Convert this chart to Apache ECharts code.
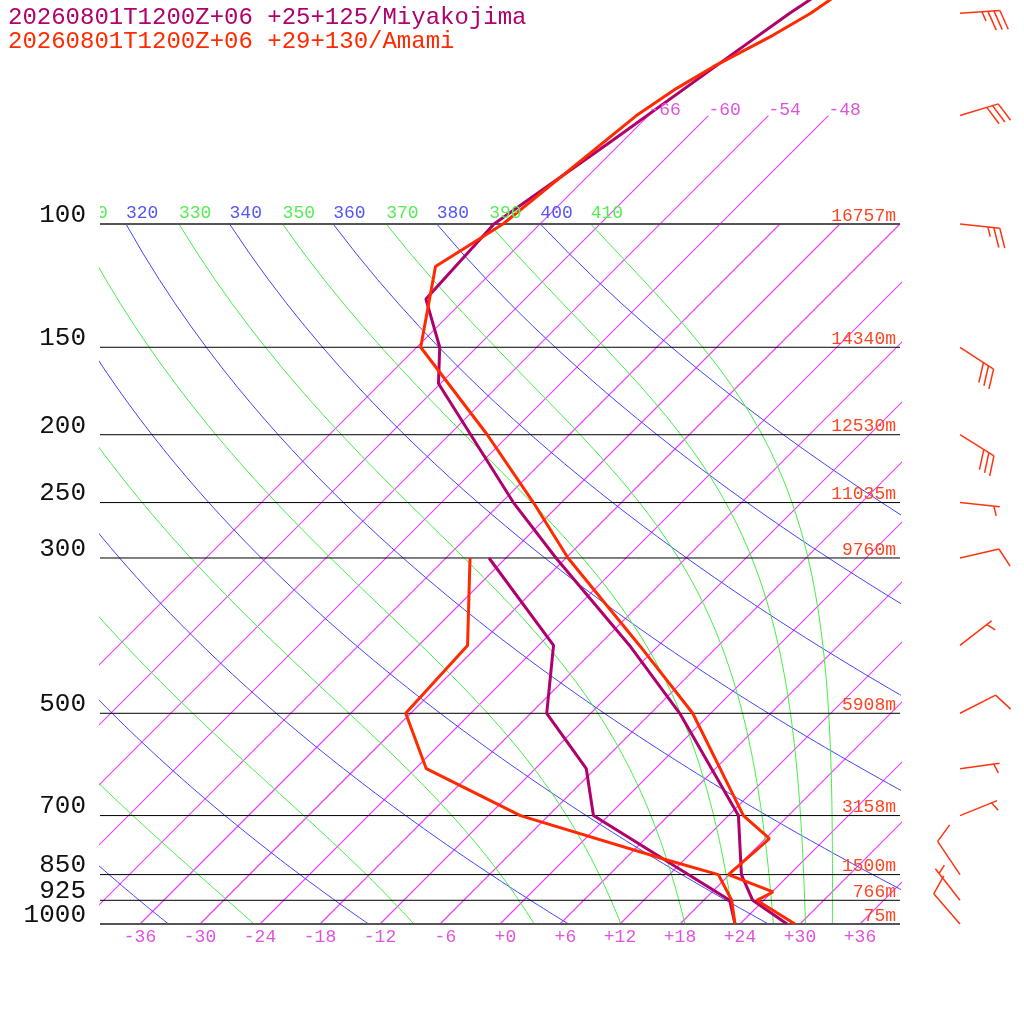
<!DOCTYPE html>
<html>
<head>
<meta charset="UTF-8">
<script src="https://cdn.jsdelivr.net/npm/echarts@6/dist/echarts.min.js"></script>
<style>
    body { margin: 0; background: #fff; }
</style>
</head>
<body>
<div id="main" style="width:1024px;height:1024px;"></div>
<script>
// soundings (hPa, degC)
var amamiP    = [1000, 925, 900, 850, 755, 700, 500, 400, 300, 250, 200, 150, 115, 100, 70, 64, 59.6, 53.8, 50, 45];
var amamiT    = [29.5, 23.3, 24.1, 17.9, 18.4, 13.5, -1.8, -13.9, -29.8, -38.8, -50.2, -65.6, -72.2, -69.7, -67.2, -65.9, -64.4, -61.6, -60.0, -58.6];
var amamiTdP  = [1000, 925, 850, 810, 700, 600, 500, 400, 300];
var amamiTd   = [23.5, 20.8, 16.9, 10.3, -8.8, -22.9, -30.5, -31.1, -39.6];

var miyakoP   = [1000, 925, 850, 700, 500, 400, 300, 250, 169, 150, 128, 100, 76, 57, 50, 45];
var miyakoT   = [28.7, 22.9, 19.2, 13.0, -3.1, -14.9, -31.0, -40.8, -60.2, -63.7, -69.9, -70.6, -67.1, -63.7, -62.1, -60.5];
var miyakoTdP = [1000, 925, 700, 600, 500, 400, 300];
var miyakoTd  = [23.5, 20.6, -1.5, -6.9, -16.4, -22.5, -37.7];

// wind barbs (Amami): direction from (deg), speed (kt)
var windP   = [50, 70, 100, 150, 200, 250, 300, 400, 500, 600, 700, 850, 925, 1000];
var windDir = [86, 73, 96, 123, 122, 96, 77, 52, 63, 82, 68, 326, 322, 319];
var windKt  = [35, 30, 25, 30, 30, 5, 10, 5, 10, 5, 5, 10, 5, 10];

// axes / reference lines
var isobars    = [1000, 925, 850, 700, 500, 300, 250, 200, 150, 100];
var isobarText = ['1000', '925', '850', '700', '500', '300', '250', '200', '150', '100'];
var heights    = ['75m', '766m', '1500m', '3158m', '5908m', '9760m', '11035m', '12530m', '14340m', '16757m'];
var tempTicks  = [-36, -30, -24, -18, -12, -6, 0, 6, 12, 18, 24, 30, 36];
var isotherms  = [-66, -60, -54, -48, -42, -36, -30, -24, -18, -12, -6, 0, 6, 12, 18, 24, 30, 36];
var upperIsotherms = [-66, -60, -54, -48];
var dryTheta   = [240, 260, 280, 300, 320, 340, 360, 380, 400];
var moistTheta = [250, 270, 290, 310, 330, 350, 370, 390, 410];
var dryLabels  = [320, 340, 360, 380, 400];
var moistLabels = [310, 330, 350, 370, 390, 410];

var SKEW = 30.4;              // x shift per unit ln(1000/p)
var PTOP = 1000 * Math.exp(-924 / 304);
var MONO = 'Liberation Mono, monospace';

function sx(t, p) { return t + SKEW * Math.log(1000 / p); }

function thetaE(tc, p) {
    var tk = tc + 273.15;
    var es = 6.112 * Math.exp(17.67 * tc / (tc + 243.5));
    if (es > p * 0.6) return 1e9;
    var r = 622 * es / (p - es);
    return tk * Math.pow(1000 / p, 0.2854 * (1 - 0.00028 * r)) *
        Math.exp((3.376 / tk - 0.00254) * r * (1 + 0.00081 * r));
}
function moistT(te, p) {
    var lo = -170, hi = 60;
    for (var i = 0; i < 60; i++) {
        var mid = (lo + hi) / 2;
        if (thetaE(mid, p) > te) hi = mid; else lo = mid;
    }
    return (lo + hi) / 2;
}

var levels = [];
for (var p = 1000; p >= 100; p -= 10) levels.push(p);

function lineSeries(data, color, width, z, clip) {
    return {
        type: 'line', data: data, symbol: 'none', showSymbol: false, silent: true, animation: false,
        clip: clip, z: z, color: color,
        lineStyle: { color: color, width: width, opacity: 1 }
    };
}

var series = [];

// isotherms, from 1000 hPa up to their top level
isotherms.forEach(function (t) {
    var top = upperIsotherms.indexOf(t) >= 0 ? 70 : 100;
    series.push(lineSeries([[sx(t, 1000), 1000], [sx(t, top), top]], '#f040ff', 1.15, 2, true));
});
dryTheta.forEach(function (th) {
    series.push(lineSeries(levels.map(function (p) {
        return [sx(th * Math.pow(p / 1000, 0.2857) - 273.15, p), p];
    }), '#4444ff', 1, 2, true));
});
moistTheta.forEach(function (te) {
    series.push(lineSeries(levels.map(function (p) {
        return [sx(moistT(te, p), p), p];
    }), '#44ee44', 1, 2, true));
});
isobars.forEach(function (p) {
    var edge = (p === 1000 || p === 100);
    series.push(lineSeries([[-40, p], [40, p]], edge ? '#555' : '#000', edge ? 2 : 1, 3, true));
});

function profile(ps, ts, color) {
    return lineSeries(ps.map(function (p, i) { return [sx(ts[i], p), p]; }), color, 3, 5, false);
}
series.push(profile(miyakoTdP, miyakoTd, '#b0006c'));
series.push(profile(miyakoP, miyakoT, '#b0006c'));
series.push(profile(amamiTdP, amamiTd, '#ff2a00'));
series.push(profile(amamiP, amamiT, '#ff2a00'));

function textSeries(points, texts, colors, opt) {
    return {
        type: 'custom', silent: true, animation: false, clip: !!opt.clip, z: 10,
        data: points,
        renderItem: function (params, api) {
            var c = api.coord([api.value(0), api.value(1)]);
            var i = params.dataIndex;
            return {
                type: 'text', x: c[0] + (opt.dx || 0), y: c[1] + (opt.dy || 0),
                style: {
                    text: texts[i], fill: Array.isArray(colors) ? colors[i] : colors,
                    font: opt.font, align: opt.align, verticalAlign: 'middle'
                }
            };
        }
    };
}

// pressure labels
series.push(textSeries(isobars.map(function (p) { return [-40, p]; }), isobarText, '#111',
    { font: '26px ' + MONO, align: 'right', dx: -14, dy: -9 }));
// heights
series.push(textSeries(isobars.map(function (p) { return [39.6, p]; }), heights, '#ff4422',
    { font: '18px ' + MONO, align: 'right', dy: -8 }));
// bottom temperature labels
series.push(textSeries(tempTicks.map(function (t) { return [t, 1000]; }),
    tempTicks.map(function (t) { var s = (t < 0 ? '-' : '+') + Math.abs(t); return s.length < 3 ? ' ' + s : s; }),
    '#dd55dd', { font: '18px ' + MONO, align: 'center', dy: 13 }));
// isotherm labels at the top
series.push(textSeries(upperIsotherms.map(function (t) { return [sx(t, 70), 70]; }),
    upperIsotherms.map(function (t) { return '' + t; }), '#dd55dd',
    { font: '18px ' + MONO, align: 'left', dy: -5 }));
// theta labels along 100 hPa
var thLab = [], thPos = [], thCol = [];
dryLabels.forEach(function (th) {
    thPos.push([sx(th * Math.pow(0.1, 0.2857) - 273.15, 100), 100]); thLab.push('' + th); thCol.push('#5555ff');
});
moistLabels.forEach(function (te) {
    thPos.push([sx(moistT(te, 100), 100), 100]); thLab.push('' + te); thCol.push('#55ee55');
});
series.push(textSeries(thPos, thLab, thCol, { font: '18px ' + MONO, align: 'left', dy: -11, clip: true }));

// wind barbs
series.push({
    type: 'custom', silent: true, animation: false, clip: false, z: 8,
    data: windP.map(function (p) { return [46, p]; }),
    renderItem: function (params, api) {
        var i = params.dataIndex;
        var b = api.coord([api.value(0), api.value(1)]);
        var d = windDir[i] * Math.PI / 180;
        var ux = Math.sin(d), uy = -Math.cos(d);
        var a = 70 * Math.PI / 180;
        var vx = ux * Math.cos(a) - uy * Math.sin(a), vy = ux * Math.sin(a) + uy * Math.cos(a);
        var ex = b[0] + 40 * ux, ey = b[1] + 40 * uy;
        var st = { stroke: '#ff3311', lineWidth: 1.5 };
        var kids = [{ type: 'line', shape: { x1: b[0], y1: b[1], x2: ex, y2: ey }, style: st }];
        var full = Math.floor(windKt[i] / 10), half = windKt[i] % 10 >= 5;
        var pos = full === 0 ? 6 : 0;
        for (var k = 0; k < full; k++) {
            var x0 = ex - pos * ux, y0 = ey - pos * uy;
            kids.push({ type: 'line', shape: { x1: x0, y1: y0, x2: x0 + 20.5 * vx, y2: y0 + 20.5 * vy }, style: st });
            pos += 6;
        }
        if (half) {
            var hx = ex - pos * ux, hy = ey - pos * uy;
            kids.push({ type: 'line', shape: { x1: hx, y1: hy, x2: hx + 10 * vx, y2: hy + 10 * vy }, style: st });
        }
        return { type: 'group', children: kids };
    }
});

var chart = echarts.init(document.getElementById('main'));
chart.setOption({
    backgroundColor: '#fff',
    animation: false,
    title: [
        { text: '20260801T1200Z+06 +25+125/Miyakojima', left: 3, top: 1,
          textStyle: { fontFamily: MONO, fontSize: 24, fontWeight: 'normal', color: '#b0006c' } },
        { text: '20260801T1200Z+06 +29+130/Amami', left: 3, top: 25,
          textStyle: { fontFamily: MONO, fontSize: 24, fontWeight: 'normal', color: '#ff2a00' } }
    ],
    grid: { left: 100, top: 0, width: 800, height: 924 },
    xAxis: { type: 'value', min: -40, max: 40, show: false },
    yAxis: { type: 'log', min: PTOP, max: 1000, inverse: true, show: false },
    series: series
});
</script>
</body>
</html>
